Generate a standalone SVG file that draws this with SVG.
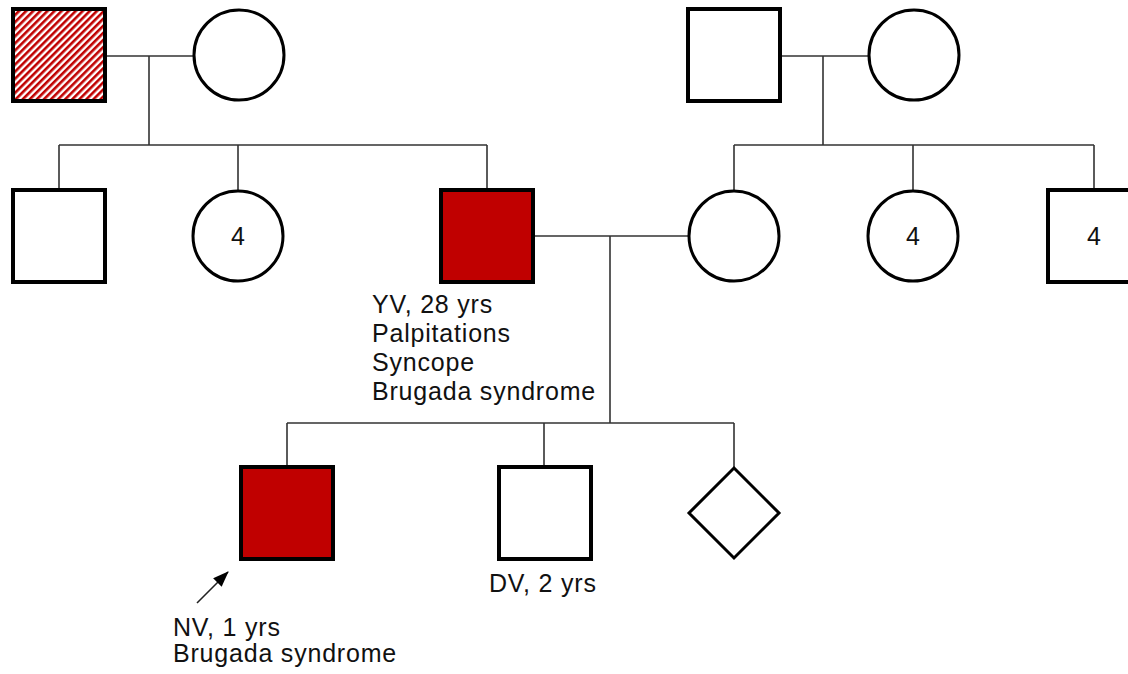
<svg xmlns="http://www.w3.org/2000/svg" width="1128" height="674" viewBox="0 0 1128 674">
<style>
.sq{fill:#fff;stroke:#000;stroke-width:4}
.aff{fill:#C00000;stroke:#000;stroke-width:4}
.ci{fill:#fff;stroke:#000;stroke-width:3}
.ln{fill:none;stroke:#333;stroke-width:1.6}
.t{font-family:"Liberation Sans",Arial,sans-serif;font-size:25px;letter-spacing:0.8px;fill:#111}
.n{font-family:"Liberation Sans",Arial,sans-serif;font-size:25px;fill:#111;text-anchor:middle}
</style>
<defs>
<pattern id="hatch" patternUnits="userSpaceOnUse" width="5" height="5" patternTransform="rotate(45)">
<rect width="5" height="5" fill="#fff"/>
<rect width="2.6" height="5" fill="#C00000"/>
</pattern>
<marker id="ah" viewBox="0 0 16 12" refX="15" refY="6" markerWidth="16" markerHeight="12" orient="auto" markerUnits="userSpaceOnUse">
<path d="M0,0 L16,6 L0,12 z" fill="#000"/>
</marker>
</defs>
<g id="connectors">
<path class="ln" d="M105,56 H194 M149,56 V145 M59,145 H487 M59,145 V190 M238,145 V190 M487,145 V190"/>
<path class="ln" d="M780,56 H869 M823,56 V145 M734,145 H1094 M734,145 V190 M913,145 V190 M1094,145 V190"/>
<path class="ln" d="M533,236 H689 M610,236 V423 M287,423 H734 M287,423 V467 M544,423 V467 M734,423 V468"/>
<line x1="197" y1="603" x2="228" y2="572" stroke="#222" stroke-width="1.6" marker-end="url(#ah)"/>
</g>
<g id="gf1"><rect x="13" y="9" width="92" height="92" fill="url(#hatch)" stroke="#000" stroke-width="4"/></g>
<g id="gm1"><circle class="ci" cx="239" cy="55" r="45"/></g>
<g id="gf2"><rect class="sq" x="688" y="9" width="92" height="92"/></g>
<g id="gm2"><circle class="ci" cx="914" cy="55" r="45"/></g>
<g id="uncle"><rect class="sq" x="13" y="190" width="92" height="92"/></g>
<g id="aunts1"><circle class="ci" cx="238" cy="236" r="45"/><text class="n" x="238" y="245">4</text></g>
<g id="yv"><rect class="aff" x="441" y="190" width="92" height="92"/>
<text class="t" x="372" y="313">YV, 28 yrs</text>
<text class="t" x="372" y="342">Palpitations</text>
<text class="t" x="372" y="371">Syncope</text>
<text class="t" x="372" y="400">Brugada syndrome</text></g>
<g id="mother"><circle class="ci" cx="734" cy="236" r="45"/></g>
<g id="aunts2"><circle class="ci" cx="913" cy="236" r="45"/><text class="n" x="913" y="245">4</text></g>
<g id="uncles2"><rect class="sq" x="1048" y="190" width="92" height="92"/><text class="n" x="1094" y="245">4</text></g>
<g id="nv"><rect class="aff" x="241" y="467" width="92" height="92"/>
<text class="t" x="173" y="636">NV, 1 yrs</text>
<text class="t" x="173" y="662">Brugada syndrome</text></g>
<g id="dv"><rect class="sq" x="499" y="467" width="92" height="92"/>
<text class="t" x="489" y="592">DV, 2 yrs</text></g>
<g id="unk"><path class="ci" d="M734,468 L779,513 L734,558 L689,513 z"/></g>
</svg>
